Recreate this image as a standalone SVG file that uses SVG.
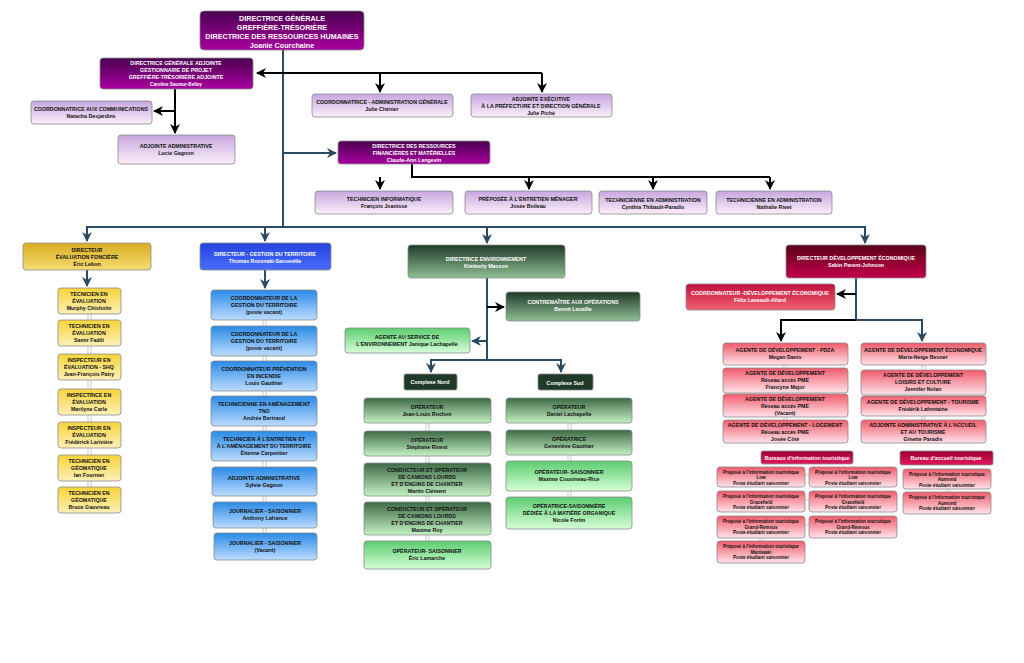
<svg xmlns="http://www.w3.org/2000/svg" width="1024" height="663" viewBox="0 0 1024 663">
<defs>
<linearGradient id="gP" x1="0" y1="0" x2="0" y2="1"><stop offset="0" stop-color="#4a0050"/><stop offset="1" stop-color="#a8009e"/></linearGradient>
<linearGradient id="gLP" x1="0" y1="0" x2="0" y2="1"><stop offset="0" stop-color="#c7a7df"/><stop offset="1" stop-color="#fbeefa"/></linearGradient>
<linearGradient id="gG" x1="0" y1="0" x2="0" y2="1"><stop offset="0" stop-color="#d9ae22"/><stop offset="1" stop-color="#f5dc72"/></linearGradient>
<linearGradient id="gY" x1="0" y1="0" x2="0" y2="1"><stop offset="0" stop-color="#f8d43a"/><stop offset="1" stop-color="#fdf0b8"/></linearGradient>
<linearGradient id="gB" x1="0" y1="0" x2="0" y2="1"><stop offset="0" stop-color="#2444dd"/><stop offset="1" stop-color="#4a6cff"/></linearGradient>
<linearGradient id="gLB" x1="0" y1="0" x2="0" y2="1"><stop offset="0" stop-color="#2a8ae6"/><stop offset="1" stop-color="#bcdcff"/></linearGradient>
<linearGradient id="gE" x1="0" y1="0" x2="0" y2="1"><stop offset="0" stop-color="#1f3a28"/><stop offset="1" stop-color="#8fbf94"/></linearGradient>
<linearGradient id="gLG" x1="0" y1="0" x2="0" y2="1"><stop offset="0" stop-color="#3d6a45"/><stop offset="1" stop-color="#c4f2c4"/></linearGradient>
<linearGradient id="gLG2" x1="0" y1="0" x2="0" y2="1"><stop offset="0" stop-color="#5ccc70"/><stop offset="1" stop-color="#d6ffd6"/></linearGradient>
<linearGradient id="gR" x1="0" y1="0" x2="0" y2="1"><stop offset="0" stop-color="#5a0018"/><stop offset="1" stop-color="#c4004c"/></linearGradient>
<linearGradient id="gR2" x1="0" y1="0" x2="0" y2="1"><stop offset="0" stop-color="#c0103a"/><stop offset="1" stop-color="#f26070"/></linearGradient>
<linearGradient id="gLR" x1="0" y1="0" x2="0" y2="1"><stop offset="0" stop-color="#f05a6a"/><stop offset="1" stop-color="#ffe4ea"/></linearGradient>
<linearGradient id="gBu" x1="0" y1="0" x2="0" y2="1"><stop offset="0" stop-color="#9c0030"/><stop offset="1" stop-color="#e01860"/></linearGradient>
<marker id="aS" viewBox="0 0 10 10" refX="9" refY="5" markerWidth="5" markerHeight="5" orient="auto"><path d="M0,0L10,5L0,10L3,5z" fill="#2b4a66"/></marker>
<marker id="aK" viewBox="0 0 10 10" refX="9" refY="5" markerWidth="5" markerHeight="5" orient="auto"><path d="M0,0L10,5L0,10L3,5z" fill="#000"/></marker>
</defs>
<style>
rect{stroke:#8a8a8a;stroke-width:0.8}
text{font-family:"Liberation Sans",Arial,sans-serif;font-weight:bold;font-size:5.3px;text-anchor:middle;fill:#111}
.w{fill:#fff}
.big{font-size:7.2px}
.s{font-size:4.6px}
.cs{fill:none;stroke:#2b4a66;stroke-width:2}
.ck{fill:none;stroke:#000;stroke-width:2}
.cg{fill:none;stroke:#bbb;stroke-width:0.8}
</style>
<g id="connectors">
<path class="cs" d="M283,50V227"/>
<path class="ck" d="M542,73H257" marker-end="url(#aK)"/>
<path class="ck" d="M380,73V92" marker-end="url(#aK)"/>
<path class="ck" d="M542,73V92" marker-end="url(#aK)"/>
<path class="ck" d="M175,89V133" marker-end="url(#aK)"/>
<path class="ck" d="M175,111H154" marker-end="url(#aK)"/>
<path class="cs" d="M283,153H336" marker-end="url(#aS)"/>
<path class="ck" d="M412,164V177H770"/>
<path class="ck" d="M380,177V189" marker-end="url(#aK)"/>
<path class="ck" d="M529,177V189" marker-end="url(#aK)"/>
<path class="ck" d="M653,177V189" marker-end="url(#aK)"/>
<path class="ck" d="M770,177V189" marker-end="url(#aK)"/>
<path class="cs" d="M87,241V227H865V243"/>
<path class="cs" d="M265,227V241" marker-end="url(#aS)"/>
<path class="cs" d="M487,227V243" marker-end="url(#aS)"/>
<path class="cs" d="M87,235V241" marker-end="url(#aS)"/>
<path class="cs" d="M865,235V243" marker-end="url(#aS)"/>
<path class="cs" d="M87,270V286" marker-end="url(#aS)"/>
<path class="cs" d="M265,270V288" marker-end="url(#aS)"/>
<path class="cs" d="M487,278V360"/>
<path class="ck" d="M487,307H504" marker-end="url(#aK)"/>
<path class="cs" d="M487,341H472" marker-end="url(#aS)"/>
<path class="cs" d="M431,372V360H561V372"/>
<path class="cs" d="M431,366V372" marker-end="url(#aS)"/>
<path class="cs" d="M561,366V372" marker-end="url(#aS)"/>
<path class="cs" d="M856,278V320H922V341"/>
<path class="cs" d="M922,334V341" marker-end="url(#aS)"/>
<path class="ck" d="M856,294H837" marker-end="url(#aK)"/>
<path class="ck" d="M856,320H781V341" marker-end="url(#aK)"/>
<path class="cg" d="M88,314V487M91,314V487"/>
<path class="cg" d="M263,320V533M266,320V533"/>
<path class="cg" d="M426,423V541M429,423V541"/>
<path class="cg" d="M568,423V497M571,423V497"/>
<path class="cg" d="M784,365V420M787,365V420"/>
<path class="cg" d="M922,365V420M925,365V420"/>
<path class="cg" d="M805,475H809M805,500H809M805,525H809"/>
<path class="cg" d="M760,538V541M763,538V541"/>
<path class="cg" d="M946,489V492M949,489V492"/>
</g>
<g id="dg"><rect x="200" y="11" width="164" height="39" rx="4" fill="url(#gP)"/><text class="w big" x="282" y="21">DIRECTRICE GÉNÉRALE</text><text class="w big" x="282" y="30">GREFFIÈRE-TRÉSORIÈRE</text><text class="w big" x="282" y="39">DIRECTRICE DES RESSOURCES HUMAINES</text><text class="w big" x="282" y="48">Joanie Courchaine</text></g>
<g id="dga"><rect x="100" y="58" width="153" height="31" rx="3" fill="url(#gP)"/><text class="w" x="176" y="65">DIRECTRICE GÉNÉRALE ADJOINTE</text><text class="w" x="176" y="72">GESTIONNAIRE DE PROJET</text><text class="w" x="176" y="79">GREFFIÈRE-TRÉSORIÈRE ADJOINTE</text><text class="w s" x="176" y="86">Caroline Saumur-Belley</text></g>
<g id="comm"><rect x="31" y="101" width="121" height="23" rx="3" fill="url(#gLP)"/><text x="91" y="111">COORDONNATRICE AUX COMMUNICATIONS</text><text x="91" y="118">Natacha Desjardins</text></g>
<g id="adjadm"><rect x="118" y="135" width="117" height="29" rx="3" fill="url(#gLP)"/><text x="176" y="148">ADJOINTE ADMINISTRATIVE</text><text x="176" y="155">Lucie Gagnon</text></g>
<g id="coordadm"><rect x="312" y="94" width="141" height="23" rx="3" fill="url(#gLP)"/><text x="382" y="104">COORDONNATRICE - ADMINISTRATION GÉNÉRALE</text><text x="382" y="111">Julie Chénier</text></g>
<g id="adjexe"><rect x="471" y="94" width="141" height="23" rx="3" fill="url(#gLP)"/><text x="541" y="101">ADJOINTE EXÉCUTIVE</text><text x="541" y="108">À LA PRÉFECTURE ET DIRECTION GÉNÉRALE</text><text x="541" y="115">Julie Piché</text></g>
<g id="drfm"><rect x="338" y="141" width="152" height="23" rx="3" fill="url(#gP)"/><text class="w" x="414" y="148">DIRECTRICE DES RESSOURCES</text><text class="w" x="414" y="155">FINANCIÈRES ET MATÉRIELLES</text><text class="w" x="414" y="162">Claude-Ann Langevin</text></g>
<g id="techinfo"><rect x="315" y="191" width="138" height="23" rx="3" fill="url(#gLP)"/><text x="384" y="201">TECHNICIEN INFORMATIQUE</text><text x="384" y="208">François Joanisse</text></g>
<g id="prep"><rect x="465" y="191" width="127" height="23" rx="3" fill="url(#gLP)"/><text x="528" y="201">PRÉPOSÉE À L'ENTRETIEN MÉNAGER</text><text x="528" y="208">Josée Boileau</text></g>
<g id="techadm1"><rect x="599" y="191" width="108" height="23" rx="3" fill="url(#gLP)"/><text x="653" y="202">TECHNICIENNE EN ADMINISTRATION</text><text x="653" y="209">Cynthia Thibault-Paradis</text></g>
<g id="techadm2"><rect x="716" y="191" width="116" height="23" rx="3" fill="url(#gLP)"/><text x="774" y="202">TECHNICIENNE EN ADMINISTRATION</text><text x="774" y="209">Nathalie Rivet</text></g>

<g id="eval"><rect x="23" y="243" width="128" height="27" rx="3" fill="url(#gG)"/><text x="87" y="252">DIRECTEUR</text><text x="87" y="259">ÉVALUATION FONCIÈRE</text><text x="87" y="266">Éric Lebon</text></g>
<g id="e1"><rect x="58" y="288" width="63" height="26" rx="3" fill="url(#gY)"/><text x="89" y="296">TECNICIEN EN</text><text x="89" y="303">ÉVALUATION</text><text x="89" y="310">Murphy Chisholm</text></g>
<g id="e2"><rect x="58" y="320" width="63" height="26" rx="3" fill="url(#gY)"/><text x="89" y="328">TECHNICIEN EN</text><text x="89" y="335">ÉVALUATION</text><text x="89" y="342">Samir Fadili</text></g>
<g id="e3"><rect x="58" y="354" width="63" height="26" rx="3" fill="url(#gY)"/><text x="89" y="362">INSPECTEUR EN</text><text x="89" y="369">ÉVALUATION - SHQ</text><text x="89" y="376">Jean-François Patry</text></g>
<g id="e4"><rect x="58" y="389" width="63" height="26" rx="3" fill="url(#gY)"/><text x="89" y="397">INSPECTRICE EN</text><text x="89" y="404">ÉVALUATION</text><text x="89" y="411">Marilyne Carle</text></g>
<g id="e5"><rect x="58" y="422" width="63" height="26" rx="3" fill="url(#gY)"/><text x="89" y="430">INSPECTEUR EN</text><text x="89" y="437">ÉVALUATION</text><text x="89" y="444">Frédérick Larivière</text></g>
<g id="e6"><rect x="58" y="455" width="63" height="26" rx="3" fill="url(#gY)"/><text x="89" y="463">TECHNICIEN EN</text><text x="89" y="470">GÉOMATIQUE</text><text x="89" y="477">Ian Fournier</text></g>
<g id="e7"><rect x="58" y="487" width="63" height="26" rx="3" fill="url(#gY)"/><text x="89" y="495">TECHNICIEN EN</text><text x="89" y="502">GÉOMATIQUE</text><text x="89" y="509">Bruce Gauvreau</text></g>

<g id="gt"><rect x="200" y="243" width="131" height="27" rx="3" fill="url(#gB)"/><text class="w" x="265" y="256">DIRECTEUR - GESTION DU TERRITOIRE</text><text class="w" x="265" y="263">Thomas Rozsnaki-Sasseville</text></g>
<g id="g1"><rect x="211" y="290" width="106" height="30" rx="3" fill="url(#gLB)"/><text x="264" y="300">COORDONNATEUR DE LA</text><text x="264" y="307">GESTION DU TERRITOIRE</text><text x="264" y="314">(poste vacant)</text></g>
<g id="g2"><rect x="211" y="326" width="106" height="30" rx="3" fill="url(#gLB)"/><text x="264" y="336">COORDONNATEUR DE LA</text><text x="264" y="343">GESTION DU TERRITOIRE</text><text x="264" y="350">(poste vacant)</text></g>
<g id="g3"><rect x="211" y="361" width="106" height="30" rx="3" fill="url(#gLB)"/><text x="264" y="371">COORDONNATEUR PRÉVENTION</text><text x="264" y="378">EN INCENDIE</text><text x="264" y="385">Louis Gauthier</text></g>
<g id="g4"><rect x="211" y="396" width="106" height="30" rx="3" fill="url(#gLB)"/><text x="264" y="406">TECHNICIENNE  EN AMÉNAGEMENT</text><text x="264" y="413">TNO</text><text x="264" y="420">Andrée Bertrand</text></g>
<g id="g5"><rect x="211" y="431" width="106" height="30" rx="3" fill="url(#gLB)"/><text x="264" y="441">TECHNICIEN À L'ENTRETIEN ET</text><text x="264" y="448">À L'AMÉNAGEMENT DU TERRITOIRE</text><text x="264" y="455">Étienne Carpentier</text></g>
<g id="g6"><rect x="212" y="467" width="105" height="29" rx="3" fill="url(#gLB)"/><text x="264" y="480">ADJOINTE ADMINISTRATIVE</text><text x="264" y="487">Sylvie Gagnon</text></g>
<g id="g7"><rect x="213" y="502" width="104" height="26" rx="3" fill="url(#gLB)"/><text x="265" y="513">JOURNALIER - SAISONNIER</text><text x="265" y="520">Anthony Lafrance</text></g>
<g id="g8"><rect x="214" y="533" width="103" height="27" rx="3" fill="url(#gLB)"/><text x="265" y="545">JOURNALIER - SAISONNIER</text><text x="265" y="552">(Vacant)</text></g>

<g id="env"><rect x="408" y="245" width="157" height="33" rx="3" fill="url(#gE)"/><text class="w" x="486" y="261">DIRECTRICE ENVIRONNEMENT</text><text class="w" x="486" y="268">Kimberly Masson</text></g>
<g id="contre"><rect x="506" y="292" width="134" height="29" rx="3" fill="url(#gE)"/><text class="w" x="573" y="304">CONTREMAÎTRE AUX OPÉRATIONS</text><text class="w" x="573" y="311">Benoit Lacaille</text></g>
<g id="agent"><rect x="345" y="328" width="125" height="25" rx="3" fill="url(#gLG2)"/><text x="407" y="339">AGENTE AU SERVICE DE</text><text x="407" y="346">L'ENVIRONNEMENT Janique Lachapelle</text></g>
<g id="nord"><rect x="404" y="374" width="53" height="16" rx="2" fill="#1f3a28"/><text class="w" x="430" y="384">Complexe Nord</text></g>
<g id="sud"><rect x="538" y="374" width="55" height="16" rx="2" fill="#1f3a28"/><text class="w" x="565" y="385">Complexe Sud</text></g>
<g id="n1"><rect x="364" y="398" width="127" height="25" rx="3" fill="url(#gLG)"/><text x="427" y="409">OPÉRATEUR</text><text x="427" y="416">Jean-Louis Rochon</text></g>
<g id="n2"><rect x="364" y="431" width="127" height="25" rx="3" fill="url(#gLG)"/><text x="427" y="442">OPÉRATEUR</text><text x="427" y="449">Stéphane Rivest</text></g>
<g id="n3"><rect x="364" y="463" width="127" height="33" rx="3" fill="url(#gLG)"/><text x="427" y="472">CONDUCTEUR ET OPÉRATEUR</text><text x="427" y="479">DE CAMIONS LOURDS</text><text x="427" y="486">ET D'ENGINS DE CHANTIER</text><text x="427" y="493">Martin Clément</text></g>
<g id="n4"><rect x="364" y="502" width="127" height="33" rx="3" fill="url(#gLG)"/><text x="427" y="511">CONDUCTEUR ET OPÉRATEUR</text><text x="427" y="518">DE CAMIONS LOURDS</text><text x="427" y="525">ET D'ENGINS DE CHANTIER</text><text x="427" y="532">Maxime Roy</text></g>
<g id="n5"><rect x="364" y="541" width="127" height="28" rx="3" fill="url(#gLG2)"/><text x="427" y="553">OPÉRATEUR- SAISONNIER</text><text x="427" y="560">Éric Lamarche</text></g>
<g id="s1"><rect x="506" y="398" width="126" height="25" rx="3" fill="url(#gLG)"/><text x="569" y="409">OPÉRATEUR</text><text x="569" y="416">Daniel Lachapelle</text></g>
<g id="s2"><rect x="506" y="430" width="126" height="25" rx="3" fill="url(#gLG)"/><text x="569" y="441">OPÉRATRICE</text><text x="569" y="448">Geneviève Gauthier</text></g>
<g id="s3"><rect x="506" y="461" width="126" height="30" rx="3" fill="url(#gLG2)"/><text x="569" y="474">OPÉRATEUR- SAISONNIER</text><text x="569" y="481">Maxime Cousineau-Rice</text></g>
<g id="s4"><rect x="506" y="497" width="126" height="32" rx="3" fill="url(#gLG2)"/><text x="569" y="508">OPÉRATRICE-SAISONNIÈRE</text><text x="569" y="515">DÉDIÉE À LA MATIÈRE ORGANIQUE</text><text x="569" y="522">Nicole Fortin</text></g>

<g id="deveco"><rect x="786" y="245" width="140" height="33" rx="3" fill="url(#gR)"/><text class="w" x="856" y="260">DIRECTEUR DÉVELOPPEMENT ÉCONOMIQUE</text><text class="w" x="856" y="267">Sabin Parent-Johnson</text></g>
<g id="coordeco"><rect x="686" y="284" width="149" height="26" rx="3" fill="url(#gR2)"/><text class="w" x="760" y="295">COORDONNATEUR -DÉVELOPPEMENT ÉCONOMIQUE</text><text class="w" x="760" y="302">Félix Laveault-Allard</text></g>
<g id="l1"><rect x="723" y="343" width="125" height="22" rx="3" fill="url(#gLR)"/><text x="785" y="352">AGENTE DE DÉVELOPPEMENT  - PDZA</text><text x="785" y="359">Megan Danis</text></g>
<g id="l2"><rect x="723" y="368" width="125" height="25" rx="3" fill="url(#gLR)"/><text x="785" y="375">AGENTE DE DÉVELOPPEMENT</text><text x="785" y="382">Réseau accès PME</text><text x="785" y="389">Francyne Major</text></g>
<g id="l3"><rect x="723" y="394" width="125" height="23" rx="3" fill="url(#gLR)"/><text x="785" y="401">AGENTE DE DÉVELOPPEMENT</text><text x="785" y="408">Réseau accès PME</text><text x="785" y="415">(Vacant)</text></g>
<g id="l4"><rect x="723" y="420" width="125" height="23" rx="3" fill="url(#gLR)"/><text x="785" y="427">AGENTE DE DÉVELOPPEMENT - LOGEMENT</text><text x="785" y="434">Réseau accès PME</text><text x="785" y="441">Josée Côté</text></g>
<g id="r1"><rect x="861" y="343" width="125" height="22" rx="3" fill="url(#gLR)"/><text x="923" y="352">AGENTE DE DÉVELOPPEMENT ÉCONOMIQUE</text><text x="923" y="359">Marie-Neige Besner</text></g>
<g id="r2"><rect x="861" y="370" width="125" height="25" rx="3" fill="url(#gLR)"/><text x="923" y="377">AGENTE DE DÉVELOPPEMENT</text><text x="923" y="384">LOISIRS ET CULTURE</text><text x="923" y="391">Jennifer Nolan</text></g>
<g id="r3"><rect x="861" y="396" width="125" height="20" rx="3" fill="url(#gLR)"/><text x="923" y="404">AGENTE DE DÉVELOPPEMENT - TOURISME</text><text x="923" y="411">Frédérik Lafontaine</text></g>
<g id="r4"><rect x="861" y="420" width="125" height="23" rx="3" fill="url(#gLR)"/><text x="923" y="427">ADJOINTE ADMINISTRATIVE À L'ACCUEIL</text><text x="923" y="434">ET AU TOURISME</text><text x="923" y="441">Ginette Paradis</text></g>
<g id="bur1"><rect x="761" y="451" width="92" height="13" rx="2" fill="url(#gBu)"/><text class="w" x="807" y="459.5">Bureaux d'information touristique</text></g>
<g id="bur2"><rect x="900" y="451" width="93" height="14" rx="2" fill="url(#gBu)"/><text class="w" x="946" y="460">Bureau d'accueil touristique</text></g>
<g id="p1"><rect x="717" y="467" width="88" height="20" rx="3" fill="url(#gLR)"/><text class="s" x="761" y="474">Préposé à l'information touristique</text><text class="s" x="761" y="479">Low</text><text class="s" x="761" y="484.5">Poste étudiant saisonnier</text></g>
<g id="p2"><rect x="809" y="467" width="88" height="20" rx="3" fill="url(#gLR)"/><text class="s" x="853" y="474">Préposé à l'information touristique</text><text class="s" x="853" y="479">Low</text><text class="s" x="853" y="484.5">Poste étudiant saisonnier</text></g>
<g id="p3"><rect x="717" y="491" width="88" height="21" rx="3" fill="url(#gLR)"/><text class="s" x="761" y="498">Préposé à l'information touristique</text><text class="s" x="761" y="503.5">Gracefield</text><text class="s" x="761" y="509">Poste étudiant saisonnier</text></g>
<g id="p4"><rect x="809" y="491" width="88" height="21" rx="3" fill="url(#gLR)"/><text class="s" x="853" y="498">Préposé à l'information touristique</text><text class="s" x="853" y="503.5">Gracefield</text><text class="s" x="853" y="509">Poste étudiant saisonnier</text></g>
<g id="p5"><rect x="717" y="516" width="88" height="22" rx="3" fill="url(#gLR)"/><text class="s" x="761" y="523">Préposé à l'information touristique</text><text class="s" x="761" y="528.5">Grand-Remous</text><text class="s" x="761" y="534">Poste étudiant saisonnier</text></g>
<g id="p6"><rect x="809" y="516" width="88" height="22" rx="3" fill="url(#gLR)"/><text class="s" x="853" y="523">Préposé à l'information touristique</text><text class="s" x="853" y="528.5">Grand-Remous</text><text class="s" x="853" y="534">Poste étudiant saisonnier</text></g>
<g id="p7"><rect x="717" y="541" width="88" height="22" rx="3" fill="url(#gLR)"/><text class="s" x="761" y="548">Préposé à l'information touristique</text><text class="s" x="761" y="553.5">Maniwaki</text><text class="s" x="761" y="559">Poste étudiant saisonnier</text></g>
<g id="a1"><rect x="903" y="469" width="88" height="20" rx="3" fill="url(#gLR)"/><text class="s" x="947" y="476">Préposé à l'information touristique</text><text class="s" x="947" y="481">Aumond</text><text class="s" x="947" y="486.5">Poste étudiant saisonnier</text></g>
<g id="a2"><rect x="903" y="492" width="88" height="22" rx="3" fill="url(#gLR)"/><text class="s" x="947" y="499">Préposé à l'information touristique</text><text class="s" x="947" y="504.5">Aumond</text><text class="s" x="947" y="510">Poste étudiant saisonnier</text></g>
</svg>
